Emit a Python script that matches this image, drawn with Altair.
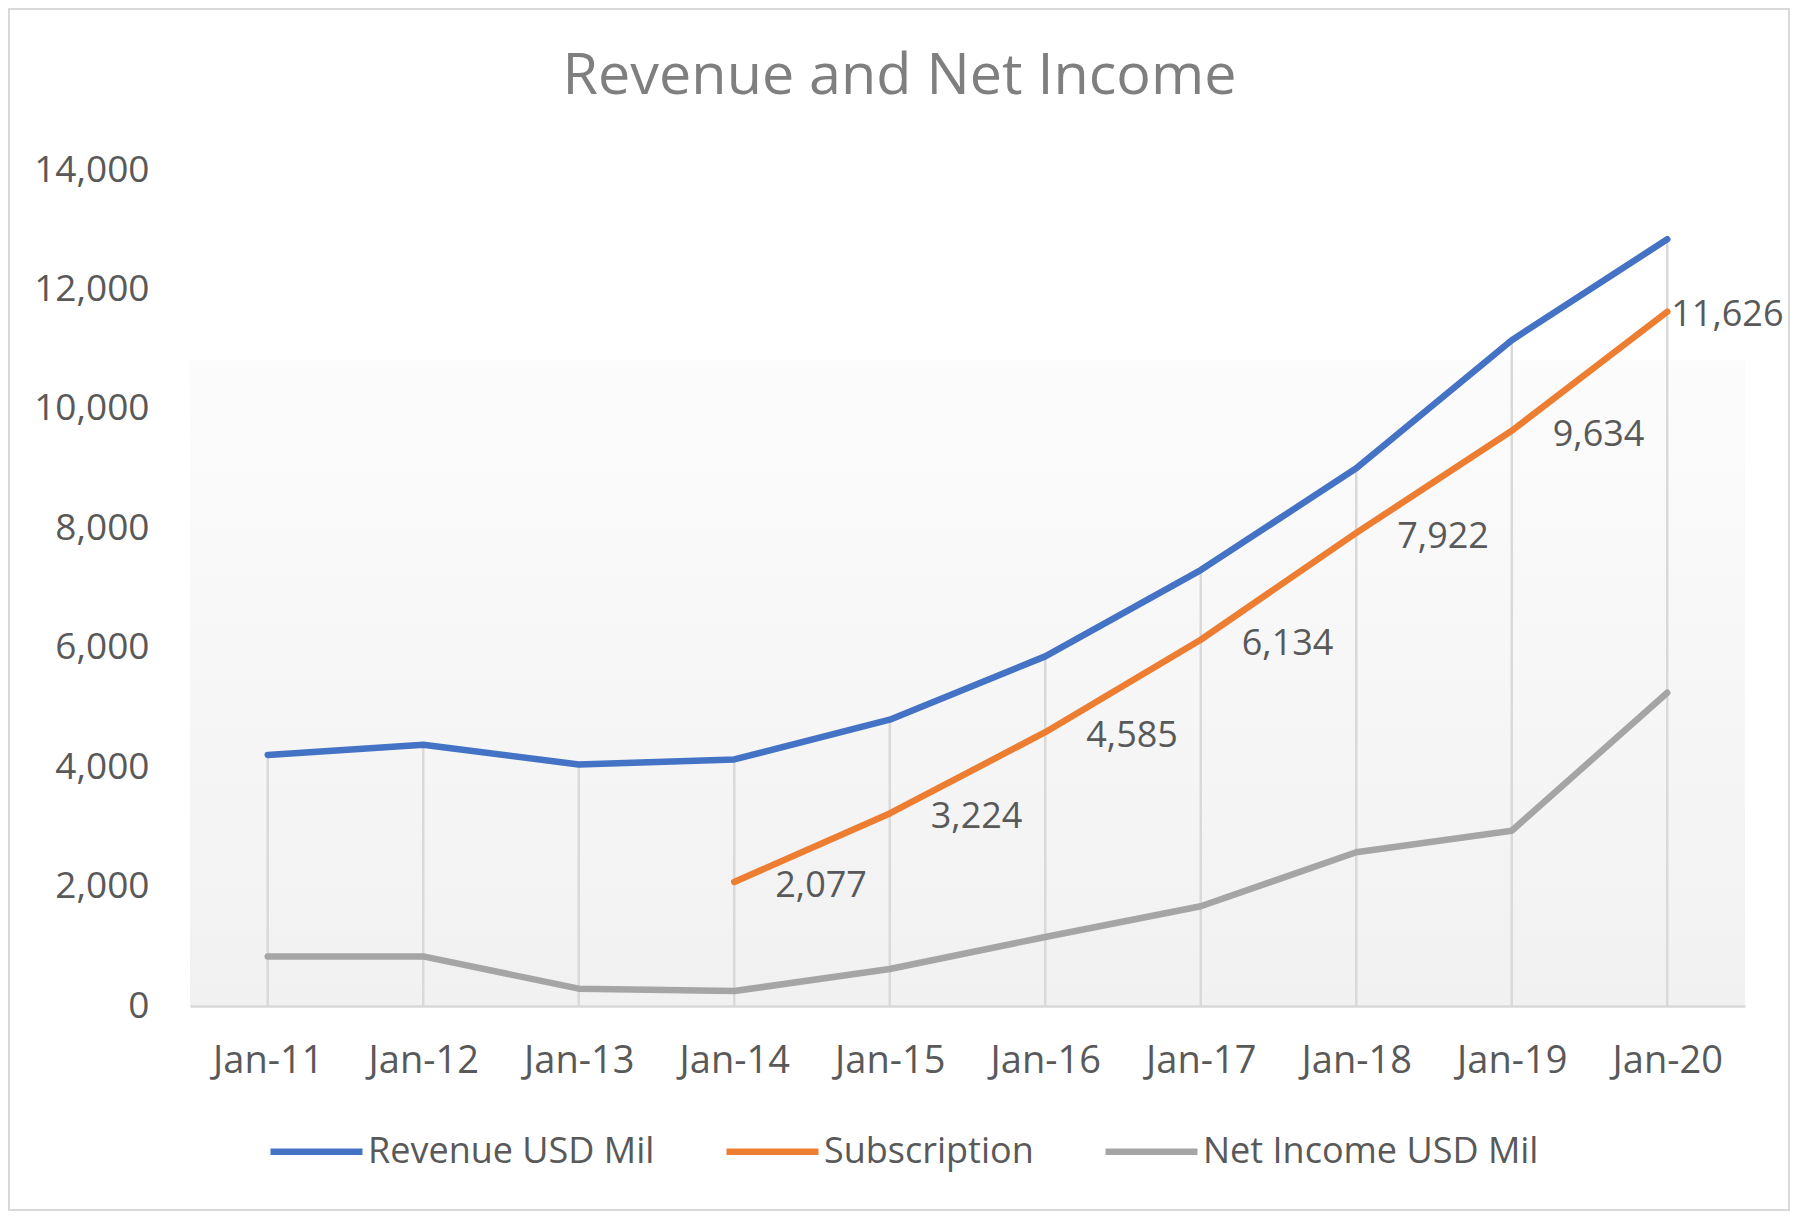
import altair as alt
import pandas as pd

categories = ["Jan-11", "Jan-12", "Jan-13", "Jan-14", "Jan-15",
              "Jan-16", "Jan-17", "Jan-18", "Jan-19", "Jan-20"]
revenue = [4205, 4375, 4045, 4130, 4795, 5855, 7300, 9005, 11150, 12840]
subscription = [None, None, None, 2077, 3224, 4585, 6134, 7922, 9634, 11626]
net_income = [830, 830, 290, 250, 620, 1155, 1670, 2575, 2935, 5245]

series_names = ["Revenue USD Mil", "Subscription", "Net Income USD Mil"]
series_colors = ["#4472C4", "#ED7D31", "#A5A5A5"]
y_ticks = [0, 2000, 4000, 6000, 8000, 10000, 12000, 14000]

rows = []
for name, vals in zip(series_names, [revenue, subscription, net_income]):
    for c, v in zip(categories, vals):
        if v is not None:
            rows.append({"cat": c, "series": name, "value": v})
long_df = pd.DataFrame(rows)
rev_df = pd.DataFrame({"cat": categories, "value": revenue})
sub_df = long_df[long_df["series"] == "Subscription"].copy()

W, H = 1555, 836
FONT = "Open Sans"
TXT = "#595959"

x_enc = alt.X("cat:N", sort=categories,
              scale=alt.Scale(type="point", padding=0.5),
              axis=alt.Axis(title=None, labelAngle=0, ticks=False, tickSize=0,
                            labelPadding=66, labelBaseline="alphabetic",
                            labelFontSize=38, labelColor=TXT, labelFont=FONT,
                            domainColor="#d9d9d9", domainWidth=2.5, grid=False,
                            zindex=1))
y_scale = alt.Scale(domain=[0, 14000], nice=False)
y_enc = alt.Y("value:Q", scale=y_scale,
              axis=alt.Axis(title=None, values=y_ticks,
                            labelExpr="format(datum.value, ',')",
                            domain=False, ticks=False, tickSize=0,
                            labelPadding=41, labelFontSize=37, labelColor=TXT,
                            labelFont=FONT, grid=False, zindex=1))

one = alt.Data(values=[{"k": 1}])

border = alt.Chart(one).mark_rect(fillOpacity=0, stroke="#d9d9d9", strokeWidth=2).encode(
    x=alt.value(-181), x2=alt.value(W + 44),
    y=alt.value(-161), y2=alt.value(H + 204))

grad = alt.Chart(one).mark_rect(
    fill=alt.Gradient(gradient="linear",
                      stops=[alt.GradientStop(color="#fcfcfc", offset=0),
                             alt.GradientStop(color="#f1f1f1", offset=1)],
                      x1=0, x2=0, y1=0, y2=1)).encode(
    x=alt.value(0), x2=alt.value(W), y=alt.value(190), y2=alt.value(H))

drops = alt.Chart(rev_df).mark_rule(color="#d9d9d9", strokeWidth=2.5).encode(
    x=x_enc, y=y_enc, y2=alt.datum(0))

lines = alt.Chart(long_df).mark_line(strokeWidth=6.5, strokeCap="round",
                                     strokeJoin="round").encode(
    x=x_enc, y=y_enc,
    color=alt.Color("series:N", sort=series_names,
                    scale=alt.Scale(domain=series_names, range=series_colors),
                    legend=alt.Legend(title=None, orient="none", direction="horizontal",
                                      legendX=77, legendY=932,
                                      symbolType="stroke", symbolSize=8464,
                                      symbolStrokeWidth=6.5, labelFontSize=36,
                                      labelFont=FONT, labelColor=TXT,
                                      labelOffset=2, columnPadding=58,
                                      labelLimit=1000, padding=0)),
    detail="series:N")

labels = alt.Chart(sub_df).mark_text(
    align="left", baseline="middle", dx=41, dy=4, fontSize=36, font=FONT, color=TXT
).encode(x=x_enc, y=y_enc, text=alt.Text("value:Q", format=",")).transform_filter(
    alt.datum.cat != "Jan-20")

last_label = alt.Chart(sub_df).mark_text(
    align="left", baseline="middle", dx=4, dy=3, fontSize=36, font=FONT, color=TXT
).encode(x=x_enc, y=y_enc, text=alt.Text("value:Q", format=",")).transform_filter(
    alt.datum.cat == "Jan-20")

chart = alt.layer(border, grad, drops, lines, labels, last_label).properties(
    width=W, height=H,
    padding={"left": 182, "top": 162, "right": 45, "bottom": 205},
    autosize=alt.AutoSizeParams(type="none"),
    background="white",
    title=alt.TitleParams("Revenue and Net Income", font=FONT, fontSize=57.5,
                          fontWeight="normal", color="#7f7f7f", anchor="middle",
                          frame="group", dx=-68, offset=-143, baseline="alphabetic"),
).configure_view(stroke=None)

chart.save("out.html", embed_options={"renderer": "svg", "actions": False})
